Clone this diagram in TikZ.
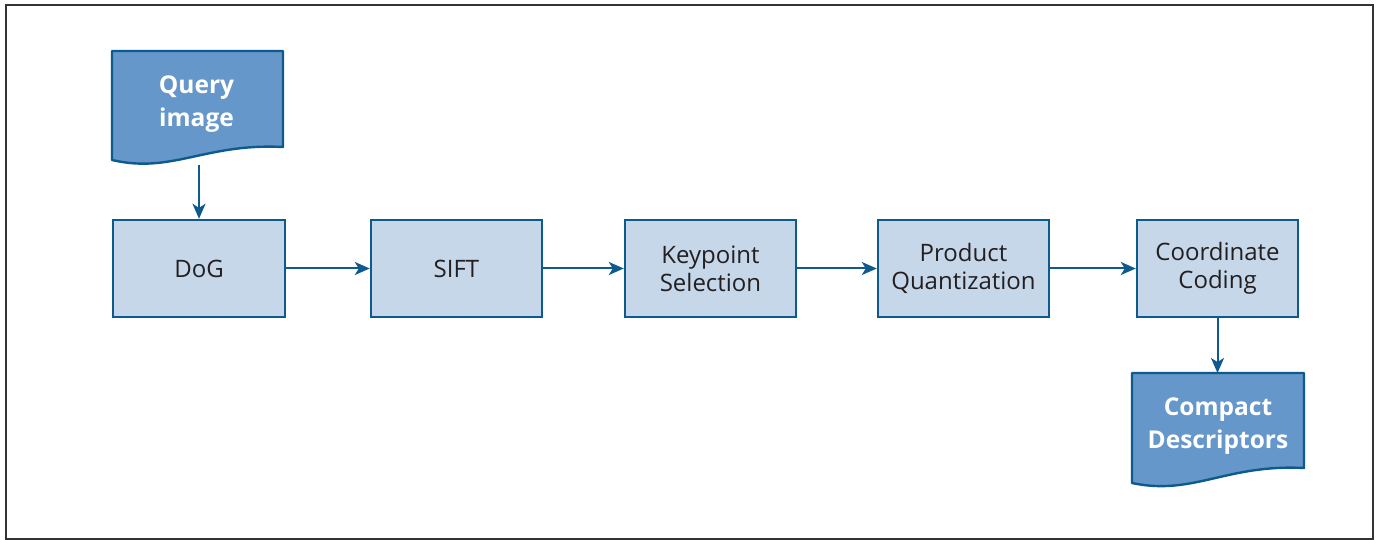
\documentclass[tikz,border=0pt]{standalone}
\usepackage{fontspec}
\setmainfont{Open Sans}
\usetikzlibrary{arrows.meta}
\definecolor{edgeblue}{HTML}{0F5A8C}
\definecolor{boxfill}{HTML}{C6D7EA}
\definecolor{docfill}{HTML}{6597CA}
\definecolor{inktext}{HTML}{231F20}
\definecolor{framegray}{HTML}{333333}
\tikzset{
  stage/.style={draw=edgeblue, line width=2.4pt, fill=boxfill, text=inktext,
    minimum height=97pt, align=center, font=\fontsize{24}{28}\selectfont, inner sep=0pt},
  doctext/.style={text=white, align=center, font=\bfseries\fontsize{24.5}{33}\selectfont, inner sep=0pt},
  docshape/.style={draw=edgeblue, line width=2.4pt, fill=docfill, line join=round},
  flow/.style={draw=edgeblue, line width=2pt, -{Stealth[length=15pt, width=13pt, inset=4pt]}}
}
\begin{document}
\begin{tikzpicture}[x=1pt, y=-1pt]
  % page frame
  \useasboundingbox (0,0) rectangle (1377,540);
  \draw[framegray, line width=2pt] (6,5) rectangle (1373,539);

  % input document
  \draw[docshape] (112,51) -- (283,51) -- (283,147)
    .. controls (205,143) and (172,174) .. (112,160) -- cycle;
  \node[doctext] (query) at (196.5,104) {Query\\image};
  \coordinate (queryout) at (199,165);

  % processing stages
  \node[stage, minimum width=172pt] (dog)   at (199,268.5) {DoG};
  \node[stage, minimum width=171pt] (sift)  at (456.5,268.5) {SIFT};
  \node[stage, minimum width=171pt] (kps)   at (710.5,268.5) {Keypoint\\Selection};
  \node[stage, minimum width=171pt] (pq)    at (963.5,268.5) {Product\\Quantization};
  \node[stage, minimum width=161pt] (coord) at (1217.5,268.5) {Coordinate\\Coding};

  % output document
  \draw[docshape] (1132,373) -- (1304,373) -- (1304,468)
    .. controls (1226,464) and (1193,496) .. (1132,483) -- cycle;
  \node[doctext] (compact) at (1218,426.5) {Compact\\Descriptors};
  \coordinate (compactin) at (1217.5,373);

  % connectors
  \draw[flow] (queryout) -- (queryout |- dog.north);
  \draw[flow] (dog) -- (sift);
  \draw[flow] (sift) -- (kps);
  \draw[flow] (kps) -- (pq);
  \draw[flow] (pq) -- (coord);
  \draw[flow] (coord.south) -- (compactin);
\end{tikzpicture}
\end{document}
